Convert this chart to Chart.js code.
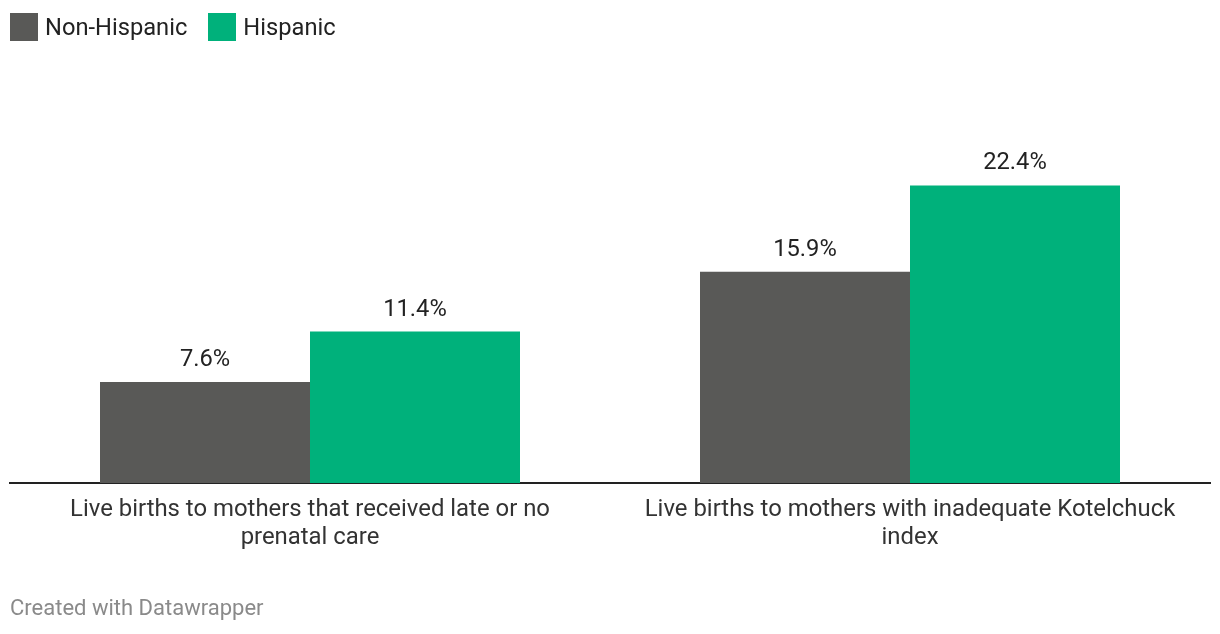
<!DOCTYPE html>
<html>
<head>
<meta charset="utf-8">
<script src="https://cdn.jsdelivr.net/npm/chart.js@4"></script>
<style>
  html, body { margin: 0; padding: 0; background: #fff; }
  body { width: 1220px; height: 634px; position: relative; overflow: hidden; font-family: Roboto, sans-serif; }
  #legend { position: absolute; left: 10px; top: 13px; display: flex; align-items: center; font-size: 23.7px; color: #222; }
  .item { display: flex; align-items: center; margin-right: 21px; }
  .sw { width: 28px; height: 28px; margin-right: 7px; }
  #footer { position: absolute; left: 10px; top: 595px; font-size: 22px; color: #8a8a8a; }
  #wrap { position: absolute; left: 0; top: 0; width: 1220px; height: 634px; }
</style>
</head>
<body>
<div id="wrap"><canvas id="barChart" width="1220" height="634"></canvas></div>
<div id="legend"></div>
<div id="footer">Created with Datawrapper</div>
<script>
const categories = [
    ['Live births to mothers that received late or no', 'prenatal care'],
    ['Live births to mothers with inadequate Kotelchuck', 'index']
];
const seriesNames = ['Non-Hispanic', 'Hispanic'];
const nonHispanic = [7.6, 15.9];
const hispanic = [11.4, 22.4];
const colors = ['#595957', '#00b17b'];

// HTML legend
const legend = document.getElementById('legend');
seriesNames.forEach((name, i) => {
    const item = document.createElement('div');
    item.className = 'item';
    item.innerHTML = '<div class="sw" style="background:' + colors[i] + '"></div><span>' + name + '</span>';
    legend.appendChild(item);
});

// Value labels above each bar
const valueLabels = {
    id: 'valueLabels',
    afterDatasetsDraw(chart) {
        const ctx = chart.ctx;
        ctx.save();
        ctx.font = '23.7px Roboto';
        ctx.fillStyle = '#222';
        ctx.textAlign = 'center';
        ctx.textBaseline = 'middle';
        chart.data.datasets.forEach((ds, i) => {
            chart.getDatasetMeta(i).data.forEach((bar, j) => {
                ctx.fillText(ds.data[j].toFixed(1) + '%', bar.x, bar.y - 22);
            });
        });
        ctx.restore();
    }
};

const ctx = document.getElementById('barChart').getContext('2d');
const myChart = new Chart(ctx, {
    type: 'bar',
    data: {
        labels: categories,
        datasets: [
            { label: seriesNames[0], data: nonHispanic, backgroundColor: colors[0] },
            { label: seriesNames[1], data: hispanic, backgroundColor: colors[1] }
        ]
    },
    options: {
        responsive: false,
        animation: false,
        layout: { padding: { left: 10, right: 10, top: 151, bottom: 51 } },
        datasets: { bar: { categoryPercentage: 0.7, barPercentage: 1.0 } },
        scales: {
            x: {
                grid: { display: false, drawTicks: false },
                border: { display: true, color: '#222', width: 2 },
                ticks: {
                    color: '#333',
                    font: { family: 'Roboto', size: 23.9, lineHeight: 1.18 },
                    padding: 13,
                    maxRotation: 0,
                    autoSkip: false
                },
                afterFit(scale) { scale.height = 100; }
            },
            y: {
                display: false,
                min: 0,
                max: 25
            }
        },
        plugins: {
            legend: { display: false },
            tooltip: { enabled: false }
        }
    },
    plugins: [valueLabels]
});
</script>
</body>
</html>
